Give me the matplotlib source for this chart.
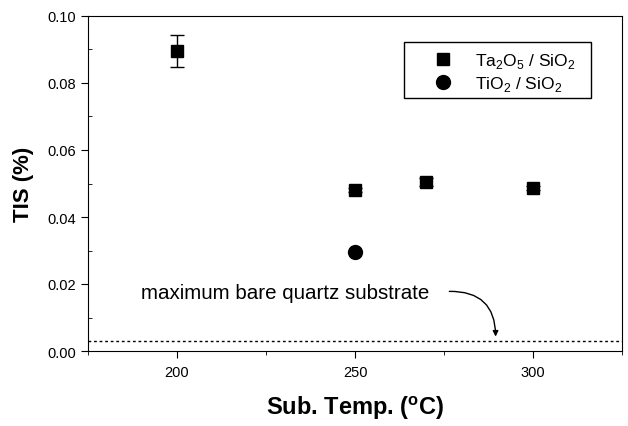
import numpy as np
import matplotlib
matplotlib.use("Agg")
from matplotlib import pyplot as plt
from matplotlib.ticker import MultipleLocator
from matplotlib.patches import Rectangle

plt.rcParams['font.family'] = ['Liberation Sans', 'DejaVu Sans']
plt.rcParams['mathtext.fontset'] = 'custom'
plt.rcParams['mathtext.rm'] = 'Liberation Sans'
plt.rcParams['mathtext.bf'] = 'Liberation Sans:bold'

# data
ta_temp = [200, 250, 270, 300]
ta_tis = [0.0896, 0.0481, 0.0505, 0.0486]
ta_err = [0.0047, 0.0006, 0.0012, 0.0006]
ti_temp = [250]
ti_tis = [0.0296]
quartz_max = 0.003

W, H = 628, 427
x0, x1, y0, y1 = 88, 622, 17, 352
fig = plt.figure(figsize=(W/100, H/100), dpi=100)
ax = fig.add_axes([x0/W, 1 - y1/H, (x1-x0)/W, (y1-y0)/H])

def axfrac(px, py):
    return (px - x0)/(x1 - x0), (y1 - py)/(y1 - y0)

ax.errorbar(ta_temp, ta_tis, yerr=ta_err, fmt='none', ecolor='black',
            capsize=5, elinewidth=1, capthick=1)
ax.plot(ta_temp, ta_tis, 's', color='black', ms=9, label=r'Ta$_2$O$_5$ / SiO$_2$')
ax.plot(ti_temp, ti_tis, 'o', color='black', ms=10, label=r'TiO$_2$ / SiO$_2$')
ax.axhline(quartz_max, color='black', ls=(0, (2, 2)), lw=1)

ax.text(190.0, 0.0176, 'maximum bare quartz substrate', fontsize=14.8, va='center', ha='left')
ax.annotate('', xy=(289.5, 0.0043), xytext=(276.5, 0.0178),
            arrowprops=dict(arrowstyle='-|>', color='black', lw=1,
                            connectionstyle='arc3,rad=-0.5', shrinkA=0, shrinkB=0,
                            mutation_scale=8))

ax.set_xlim(175, 325)
ax.set_ylim(0, 0.10)
ax.xaxis.set_major_locator(MultipleLocator(50))
ax.xaxis.set_minor_locator(MultipleLocator(25))
ax.yaxis.set_major_locator(MultipleLocator(0.02))
ax.yaxis.set_minor_locator(MultipleLocator(0.01))
ax.yaxis.set_major_formatter(plt.FormatStrFormatter('%.2f'))
ax.tick_params(axis='both', which='major', direction='out', length=5, labelsize=10.5)
ax.tick_params(axis='x', which='minor', direction='out', length=3)
ax.tick_params(axis='y', which='minor', direction='in', length=3)
ax.tick_params(axis='x', pad=5)

ax.set_xlabel(r'Sub. Temp. ($^{\mathbf{o}}$C)', fontsize=17, fontweight='bold', labelpad=10)
ax.set_ylabel('TIS (%)', fontsize=16, fontweight='bold', labelpad=10)

# legend box drawn by hand, entries placed inside it
bx0, by0 = axfrac(404, 99)
bx1, by1 = axfrac(591, 43)
ax.add_patch(Rectangle((bx0, by0), bx1 - bx0, by1 - by0, transform=ax.transAxes,
                       fill=False, edgecolor='black', lw=1, zorder=5))
lx, ly = axfrac(419, 45)
leg = ax.legend(loc='upper left', bbox_to_anchor=(lx, ly), fontsize=12.5,
                frameon=False, handletextpad=0.8, borderpad=0.4,
                labelspacing=0.25, borderaxespad=0)

fig.savefig('out.png', dpi=100)
